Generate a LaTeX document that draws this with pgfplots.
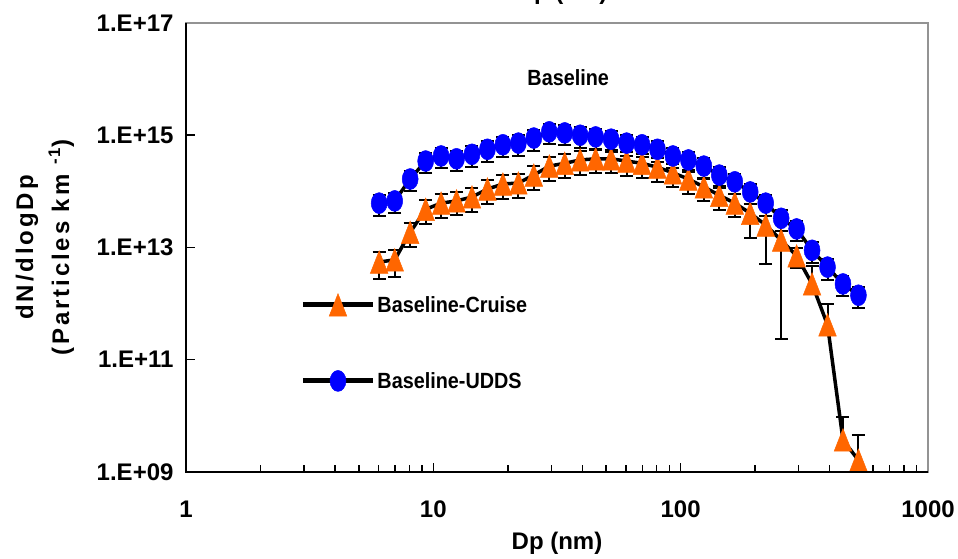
\documentclass[border=0pt]{standalone}
\usepackage{pgfplots}
\pgfplotsset{compat=1.18}
\usepackage{pgfplotstable}
\usepackage{fontspec}
\setmainfont{Liberation Sans}
\newfontfamily\condfont{Liberation Sans}[FakeStretch=0.9]
\newfontfamily\ylfont{Liberation Sans}[LetterSpace=12]
\definecolor{orangeC}{RGB}{255,102,0}
\definecolor{blueU}{RGB}{0,0,255}

\pgfplotstableread{
dp n ep em
6.04 5.50e12 0.5 0.5
6.98 6.03e12 0.5 0.5
8.06 1.86e13 0.45 0.45
9.31 4.79e13 0.45 0.45
10.75 6.17e13 0.45 0.45
12.41 6.76e13 0.45 0.45
14.33 7.94e13 0.45 0.45
16.55 1.10e14 0.45 0.45
19.11 1.35e14 0.45 0.45
22.07 1.41e14 0.45 0.45
25.48 1.95e14 0.45 0.45
29.43 2.82e14 0.45 0.45
33.98 3.16e14 0.45 0.45
39.24 3.63e14 0.45 0.45
45.31 3.80e14 0.45 0.45
52.33 3.80e14 0.45 0.45
60.43 3.47e14 0.45 0.45
69.78 3.16e14 0.45 0.45
80.58 2.69e14 0.45 0.45
93.06 2.14e14 0.45 0.45
107.46 1.66e14 0.45 0.45
124.09 1.20e14 0.45 0.45
143.30 8.51e13 0.45 0.45
165.48 6.17e13 0.45 0.44
191.10 4.07e13 0.45 0.64
220.67 2.51e13 0.45 0.80
254.83 1.35e13 0.45 0.983
294.27 7.08e12 0.4 0.4
339.82 2.24e12 1.09 0.3
392.42 4.17e11 1.37 0.3
453.16 3.72e9 1.57 0.3
523.30 1.62e9 1.79 0.3
}\cruise

\pgfplotstableread{
dp n ep em
6.04 6.17e13 0.4 0.4
6.98 6.76e13 0.4 0.4
8.06 1.66e14 0.4 0.4
9.31 3.47e14 0.4 0.4
10.75 4.27e14 0.4 0.4
12.41 3.80e14 0.4 0.4
14.33 4.57e14 0.4 0.4
16.55 5.62e14 0.4 0.4
19.11 6.76e14 0.4 0.4
22.07 7.24e14 0.4 0.4
25.48 8.91e14 0.4 0.4
29.43 1.15e15 0.4 0.4
33.98 1.10e15 0.4 0.4
39.24 1.00e15 0.4 0.4
45.31 9.33e14 0.4 0.4
52.33 8.51e14 0.4 0.4
60.43 7.24e14 0.4 0.4
69.78 6.76e14 0.4 0.4
80.58 5.62e14 0.4 0.4
93.06 4.27e14 0.4 0.4
107.46 3.63e14 0.4 0.4
124.09 2.82e14 0.4 0.4
143.30 1.95e14 0.4 0.4
165.48 1.48e14 0.4 0.4
191.10 9.77e13 0.4 0.4
220.67 6.17e13 0.4 0.4
254.83 3.31e13 0.4 0.4
294.27 2.14e13 0.4 0.4
339.82 8.91e12 0.4 0.4
392.42 4.47e12 0.4 0.4
453.16 2.24e12 0.4 0.4
523.30 1.41e12 0.4 0.4
}\udds

\begin{document}
\begin{tikzpicture}
\begin{axis}[
  at={(186pt,87pt)}, anchor=south west,
  scale only axis, width=742pt, height=449pt,
  xmode=log, ymode=log,
  xmin=1, xmax=1000, ymin=1e9, ymax=1e17,
  clip=false,
  axis line style={draw=gray!85, line width=2pt},
  tick align=inside, xtick pos=lower, ytick pos=left,
  tick style={black, line width=1.5pt},
  major tick length=9pt, minor tick length=7pt,
  xtick={1,10,100,1000}, xticklabels={1,10,100,1000},
  ytick={1e9,1e11,1e13,1e15,1e17},
  yticklabels={1.E+09,1.E+11,1.E+13,1.E+15,1.E+17},
  yminorticks=false,
  ticklabel style={font=\bfseries\fontsize{24}{24}\selectfont},
  xticklabel style={yshift=-25pt},
  yticklabel style={xshift=-9pt},
  xlabel={Dp (nm)},
  xlabel style={at={(axis description cs:0.5,0)}, anchor=center, yshift=-71pt, font=\bfseries\fontsize{24}{24}\selectfont},
  ylabel={dN/dlogDp\\(Particles km \textsuperscript{-1})},
  ylabel style={at={(axis description cs:-0.19,0.5)}, anchor=center, align=center, font=\ylfont\bfseries\fontsize{24}{36}\selectfont},
  legend style={draw=none, fill=none, at={(0.15,0.402)}, anchor=north west, row sep=54pt,
    font=\condfont\bfseries\fontsize{22}{22}\selectfont},
  legend cell align=left,
  legend image code/.code={\draw[#1, line width=5pt, mark repeat=2, mark phase=2] plot coordinates {(0pt,0pt) (35pt,0pt) (70pt,0pt)};},
]
% error bars first (behind markers)
\addplot[draw=none, no marks, forget plot,
  error bars/.cd, y dir=both, y explicit relative,
  error bar style={draw=black, line width=2pt},
  error mark options={draw=black, rotate=90, mark size=6.5pt, line width=2pt}]
  table[x=dp, y=n, y error plus=ep, y error minus=em] {\cruise};
\addplot[draw=none, no marks, forget plot,
  error bars/.cd, y dir=both, y explicit relative,
  error bar style={draw=black, line width=2pt},
  error mark options={draw=black, rotate=90, mark size=6.5pt, line width=2pt}]
  table[x=dp, y=n, y error plus=ep, y error minus=em] {\udds};

\addplot[black, line width=3.5pt, mark=triangle*, mark size=15pt,
  mark options={fill=orangeC, draw=orangeC, line width=0.5pt, xscale=0.68, yshift=-3.75pt}]
  table[x=dp, y=n] {\cruise};
\addlegendentry{Baseline-Cruise}
\addplot[black, line width=3.5pt, mark=*, mark size=10.5pt,
  mark options={fill=blueU, draw=blueU, line width=0.5pt, xscale=0.76}]
  table[x=dp, y=n] {\udds};
\addlegendentry{Baseline-UDDS}

\node[font=\condfont\bfseries\fontsize{22}{22}\selectfont] at (axis cs:35.1,1.05e16) {Baseline};
\end{axis}
\draw[line width=2pt, black] (current axis.north west) -- (current axis.south west) -- (current axis.south east);
\node[anchor=base, font=\bfseries\fontsize{24}{24}\selectfont] at (562pt,559pt) {Dp (nm)};
\pgfresetboundingbox
\useasboundingbox (0pt,0pt) rectangle (958pt,559pt);
\end{tikzpicture}
\end{document}
